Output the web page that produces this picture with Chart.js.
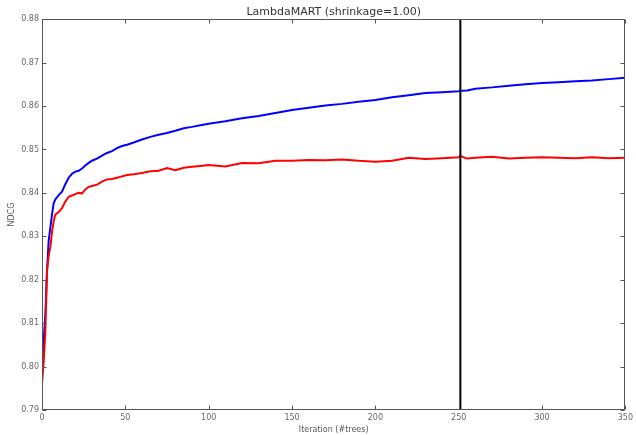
<!DOCTYPE html>
<html>
<head>
<meta charset="utf-8">
<script src="https://cdn.jsdelivr.net/npm/chart.js@4.4.1/dist/chart.umd.min.js"></script>
<style>
  html, body { margin: 0; padding: 0; background: #fff; }
  #wrap { width: 636px; height: 435px; }
</style>
</head>
<body>
<div id="wrap"><canvas id="ndcg-chart" width="636" height="435"></canvas></div>
<script>
const iterations = [0, 1, 2, 3, 4, 5, 6, 7, 8, 10, 12, 14, 16, 18, 20, 22, 24, 26, 28, 30,
    33, 36, 39, 42, 45, 48, 51, 55, 60, 65, 70, 75, 80, 85, 90, 95, 100, 110, 120, 130,
    140, 150, 160, 170, 180, 190, 200, 210, 220, 230, 240, 250, 251, 255, 260, 270, 280,
    290, 300, 310, 320, 330, 340, 350];

// blue curve
const trainNdcg = [0.800, 0.806, 0.812, 0.822, 0.829, 0.832, 0.835, 0.8376, 0.8385, 0.8395,
    0.8403, 0.8420, 0.8435, 0.8444, 0.8449, 0.8451, 0.8456, 0.8463, 0.8469, 0.8474,
    0.8479, 0.8486, 0.8492, 0.8496, 0.8503, 0.8508, 0.8511, 0.8516, 0.8523, 0.8529,
    0.8534, 0.8538, 0.8543, 0.8549, 0.8552, 0.8556, 0.8559, 0.8565, 0.8572, 0.8577,
    0.8584, 0.8591, 0.8596, 0.8601, 0.8605, 0.8610, 0.8614, 0.8620, 0.8625, 0.8630,
    0.8632, 0.8634, 0.8635, 0.8636, 0.8640, 0.8643, 0.8647, 0.8650, 0.8653, 0.8655,
    0.8657, 0.8659, 0.8662, 0.8665];

// red curve
const testNdcg = [0.796, 0.801, 0.808, 0.822, 0.8255, 0.8275, 0.831, 0.8335, 0.8350, 0.8356,
    0.8365, 0.8380, 0.8391, 0.8394, 0.8397, 0.8400, 0.8399, 0.8408, 0.8414, 0.8416,
    0.8419, 0.8426, 0.8431, 0.8432, 0.8435, 0.8438, 0.8441, 0.8443, 0.8446, 0.8450,
    0.8451, 0.8457, 0.8452, 0.8458, 0.8460, 0.8462, 0.8464, 0.8461, 0.8469, 0.8468,
    0.8474, 0.8474, 0.8476, 0.8475, 0.8477, 0.8474, 0.8472, 0.8474, 0.8481, 0.8478,
    0.8480, 0.8482, 0.8485, 0.8479, 0.8481, 0.8483, 0.8479, 0.8481, 0.8482, 0.8481,
    0.8480, 0.8482, 0.8480, 0.8481];

const bestIteration = 251;
const xRange = [0, 350];
const yRange = [0.79, 0.88];

function toPoints(xs, ys) {
    return xs.map((x, i) => ({ x: x, y: ys[i] }));
}

// matplotlib style box with inward ticks on all four sides
const framePlugin = {
    id: 'frame',
    afterDatasetsDraw(chart) {
        const ctx = chart.ctx;
        const a = chart.chartArea;
        const xs = chart.scales.x;
        const ys = chart.scales.y;
        const l = Math.round(a.left) + 0.5, r = Math.round(a.right) - 0.5;
        const t = Math.round(a.top) + 0.5, b = Math.round(a.bottom) - 0.5;
        ctx.save();
        ctx.strokeStyle = '#555';
        ctx.lineWidth = 1;
        ctx.strokeRect(l, t, r - l, b - t);
        ctx.beginPath();
        xs.ticks.forEach(tick => {
            const px = Math.round(xs.getPixelForValue(tick.value)) + 0.5;
            ctx.moveTo(px, b); ctx.lineTo(px, b - 4);
            ctx.moveTo(px, t); ctx.lineTo(px, t + 4);
        });
        ys.ticks.forEach(tick => {
            const py = Math.round(ys.getPixelForValue(tick.value)) + 0.5;
            ctx.moveTo(l, py); ctx.lineTo(l + 4, py);
            ctx.moveTo(r, py); ctx.lineTo(r - 4, py);
        });
        ctx.stroke();
        ctx.restore();
    }
};

const ctx = document.getElementById('ndcg-chart').getContext('2d');
const ndcgChart = new Chart(ctx, {
    type: 'line',
    data: {
        datasets: [
            {
                label: 'best',
                data: [{ x: bestIteration, y: yRange[0] }, { x: bestIteration, y: yRange[1] }],
                borderColor: '#000',
                borderWidth: 2,
                pointRadius: 0,
                order: 0
            },
            {
                label: 'test',
                data: toPoints(iterations, testNdcg),
                borderColor: '#ff0000',
                borderWidth: 2,
                pointRadius: 0,
                order: 1
            },
            {
                label: 'train',
                data: toPoints(iterations, trainNdcg),
                borderColor: '#0000ff',
                borderWidth: 2,
                pointRadius: 0,
                order: 2
            }
        ]
    },
    options: {
        responsive: false,
        animation: false,
        layout: { padding: { left: 0, right: 9, top: 0, bottom: 0 } },
        elements: { line: { tension: 0 } },
        plugins: {
            legend: { display: false },
            tooltip: { enabled: false },
            title: {
                display: true,
                fullSize: false,
                text: 'LambdaMART (shrinkage=1.00)',
                color: '#333',
                font: { family: 'DejaVu Sans', size: 11, weight: 'normal' },
                padding: { top: 6, bottom: 0 }
            }
        },
        scales: {
            x: {
                type: 'linear',
                min: xRange[0],
                max: xRange[1],
                grid: { display: false, drawTicks: false },
                border: { display: false },
                ticks: {
                    stepSize: 50,
                    padding: 3,
                    color: '#666',
                    maxRotation: 0,
                    font: { family: 'DejaVu Sans', size: 8 }
                },
                title: {
                    display: true,
                    text: 'Iteration (#trees)',
                    color: '#555',
                    font: { family: 'DejaVu Sans', size: 8 },
                    padding: { top: 0, bottom: 0 }
                },
                afterFit: function(scale) { scale.height = 25; }
            },
            y: {
                min: yRange[0],
                max: yRange[1],
                grid: { display: false, drawTicks: false },
                border: { display: false },
                ticks: {
                    stepSize: 0.01,
                    padding: 3,
                    color: '#666',
                    font: { family: 'DejaVu Sans', size: 8 },
                    callback: value => value.toFixed(2)
                },
                title: {
                    display: true,
                    text: 'NDCG',
                    color: '#555',
                    font: { family: 'DejaVu Sans', size: 8 },
                    padding: { top: 7, bottom: 0 }
                },
                afterFit: function(scale) { scale.width = 42; }
            }
        }
    },
    plugins: [framePlugin]
});
</script>
</body>
</html>
